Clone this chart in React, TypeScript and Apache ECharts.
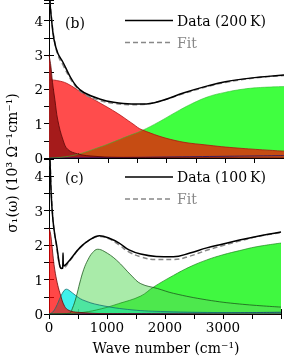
import React, { useEffect, useRef } from "react";
import * as echarts from "echarts";

// ---- Panel (b): 200 K ----
const dataB: number[][] = [
  [8, 5.4], [15, 4.6], [45, 4.0], [85, 3.45], [150, 3.05], [240, 2.78], [350, 2.4],
  [470, 2.08], [600, 1.9], [860, 1.72], [1100, 1.62], [1400, 1.57], [1600, 1.57],
  [1900, 1.66], [2300, 1.9], [2700, 2.1], [3000, 2.22], [3500, 2.34], [4000, 2.42],
];
const fitB: number[][] = [
  [8, 5.5], [15, 4.7], [45, 4.05], [85, 3.5], [150, 3.0], [240, 2.7], [350, 2.35],
  [470, 2.05], [600, 1.86], [860, 1.68], [1100, 1.59], [1400, 1.55], [1600, 1.56],
  [1900, 1.66], [2300, 1.88], [2700, 2.08], [3000, 2.2], [3500, 2.33], [4000, 2.4],
];
const drudeNarrowB: number[][] = [
  [0, 3.0], [30, 2.7], [60, 2.2], [100, 1.7], [150, 1.1], [240, 0.52], [320, 0.25],
  [490, 0.12], [700, 0.06], [1200, 0.02], [4000, 0.0],
];
const drudeBroadB: number[][] = [
  [0, 2.28], [150, 2.25], [306, 2.17], [579, 1.88], [868, 1.6], [1157, 1.31],
  [1430, 0.99], [1583, 0.82], [2145, 0.51], [2723, 0.37], [3285, 0.28], [4000, 0.2],
];
const lorentzHighB: number[][] = [
  [0, 0], [200, 0.02], [476, 0.1], [800, 0.28], [1040, 0.43], [1300, 0.61],
  [1583, 0.8], [1870, 1.05], [2145, 1.32], [2430, 1.58], [2720, 1.79], [2995, 1.91],
  [3285, 2.0], [3570, 2.05], [4000, 2.08],
];
const lorentzTinyB: number[][] = [
  [0, 0], [1000, 0.01], [2000, 0.03], [3000, 0.05], [4000, 0.07],
];

// ---- Panel (c): 100 K ----
const dataC: number[][] = [
  [8, 5.6], [17, 4.5], [40, 3.4], [68, 2.73], [100, 2.3], [136, 1.95], [165, 1.6],
  [190, 1.37], [215, 1.32], [235, 1.33], [242, 1.77], [250, 1.4], [280, 1.42],
  [360, 1.57], [530, 1.92], [700, 2.15], [870, 2.27], [1040, 2.2], [1210, 2.06],
  [1380, 1.86], [1580, 1.74], [1850, 1.67], [2145, 1.66], [2430, 1.77], [2720, 1.92],
  [3000, 2.03], [3285, 2.15], [3600, 2.26], [4000, 2.38],
];
const fitC: number[][] = [
  [8, 5.6], [20, 4.5], [68, 2.75], [136, 1.9], [190, 1.38], [240, 1.33], [360, 1.55],
  [530, 1.92], [700, 2.15], [870, 2.25], [1040, 2.18], [1210, 2.0], [1380, 1.8],
  [1580, 1.66], [1850, 1.58], [2145, 1.58], [2430, 1.68], [2720, 1.85], [3000, 1.99],
  [3285, 2.12], [3600, 2.25], [4000, 2.36],
];
const drudeC: number[][] = [
  [0, 2.5], [25, 2.35], [50, 2.0], [75, 1.6], [100, 1.28], [140, 0.92], [190, 0.6],
  [270, 0.22], [350, 0.1], [500, 0.05], [1000, 0.01], [4000, 0],
];
const phononLowC: number[][] = [
  [0, 0], [60, 0.05], [120, 0.2], [200, 0.5], [260, 0.68], [300, 0.72], [360, 0.67],
  [450, 0.55], [580, 0.41], [870, 0.26], [1430, 0.12], [2000, 0.07], [3000, 0.04],
  [4000, 0.03],
];
const lorentzMidC: number[][] = [
  [0, 0], [350, 0.02], [400, 0.15], [470, 0.5], [530, 0.9], [600, 1.3], [670, 1.57],
  [750, 1.78], [840, 1.88], [950, 1.82], [1160, 1.57], [1430, 1.1], [1583, 0.88],
  [1870, 0.74], [2145, 0.6], [2720, 0.41], [3285, 0.29], [4000, 0.2],
];
const lorentzHighC: number[][] = [
  [0, 0], [300, 0.01], [600, 0.05], [900, 0.15], [1200, 0.3], [1580, 0.52],
  [1800, 0.78], [2145, 1.12], [2430, 1.37], [2720, 1.57], [3000, 1.72], [3285, 1.84],
  [3570, 1.95], [4000, 2.06],
];
const lorentzTinyC: number[][] = [
  [0, 0], [2000, 0.02], [4000, 0.05],
];

const xTickStep = 500;
const xLabelValues = [0, 1000, 2000, 3000];
const yTickStep = 0.5;
const yLabelValues = [0, 1, 2, 3, 4];

const FONT = "DejaVu Serif";

function area(name: string, data: number[][], xi: number, yi: number, fill: string, opacity: number, line: string, lw = 0.8) {
  return {
    type: "line", name, data, xAxisIndex: xi, yAxisIndex: yi, smooth: 0.4,
    symbol: "none", silent: true,
    lineStyle: { color: line, width: lw },
    areaStyle: { color: fill, opacity },
  };
}
function curve(name: string, data: number[][], xi: number, yi: number, color: string, dashed: boolean, width: number) {
  return {
    type: "line", name, data, xAxisIndex: xi, yAxisIndex: yi, smooth: 0.4,
    symbol: "none", silent: true,
    lineStyle: { color, width, type: dashed ? [5, 3] : "solid" },
  };
}

export default function App() {
  const ref = useRef<HTMLDivElement>(null);
  useEffect(() => {
    if (!ref.current) return;
    const chart = echarts.init(ref.current, null, { renderer: "svg" });
    const axisLine = { show: true, lineStyle: { color: "#000", width: 1 } };
    const tick = { show: true, inside: true, length: 5, lineStyle: { color: "#000", width: 1 } };
    const xAx = (gi: number, pos: string, labels: boolean) => ({
      type: "value", gridIndex: gi, position: pos, min: 0, max: 4000, interval: xTickStep,
      axisLine, axisTick: tick, splitLine: { show: false },
      axisLabel: {
        show: labels, margin: 6, fontFamily: FONT, fontSize: 13.5, color: "#000",
        formatter: (v: number) => (xLabelValues.includes(v) ? String(v) : ""),
      },
    });
    const yAx = (gi: number, pos: string, max: number, labels: boolean) => ({
      type: "value", gridIndex: gi, position: pos, min: 0, max, interval: yTickStep,
      axisLine, axisTick: tick, splitLine: { show: false },
      axisLabel: {
        show: labels, margin: 6, fontFamily: FONT, fontSize: 13.5, color: "#000",
        formatter: (v: number) => (yLabelValues.includes(v) ? String(v) : ""),
      },
    });
    const legendItems = (y0: number, label: string) => [
      { type: "line", shape: { x1: 125, y1: y0, x2: 173, y2: y0 }, style: { stroke: "#000", lineWidth: 1.5 } },
      { type: "text", x: 177, y: y0, style: { text: label, fontFamily: FONT, fontSize: 14, fill: "#000", textVerticalAlign: "middle" } },
      { type: "line", shape: { x1: 125, y1: y0 + 22, x2: 173, y2: y0 + 22 }, style: { stroke: "#888", lineWidth: 1.5, lineDash: [5, 3] } },
      { type: "text", x: 177, y: y0 + 22, style: { text: "Fit", fontFamily: FONT, fontSize: 14, fill: "#888", textVerticalAlign: "middle" } },
    ];
    chart.setOption({
      animation: false,
      grid: [
        { left: 49, top: -1, width: 236, height: 159 },
        { left: 49, top: 159, width: 236, height: 155 },
      ],
      xAxis: [xAx(0, "bottom", false), xAx(0, "top", false), xAx(1, "bottom", true), xAx(1, "top", false)],
      yAxis: [yAx(0, "left", 4.6, true), yAx(0, "right", 4.6, false), yAx(1, "left", 4.5, true), yAx(1, "right", 4.5, false)],
      series: [
        area("Tiny (200 K)", lorentzTinyB, 0, 0, "#2a1a9a", 1, "#1a1070"),
        area("Lorentz high (200 K)", lorentzHighB, 0, 0, "#40ff40", 1, "#30c030", 0.6),
        area("Drude broad (200 K)", drudeBroadB, 0, 0, "#ff0000", 0.7, "#b01010"),
        area("Drude narrow (200 K)", drudeNarrowB, 0, 0, "#a51b1b", 1, "#5a0808"),
        curve("Fit (200 K)", fitB, 0, 0, "#888", true, 1.5),
        curve("Data (200 K)", dataB, 0, 0, "#000", false, 1.5),
        area("Tiny (100 K)", lorentzTinyC, 2, 2, "#2a1a9a", 1, "#1a1070"),
        area("Lorentz high (100 K)", lorentzHighC, 2, 2, "#40f840", 1, "#208a20", 0.7),
        area("Phonon (100 K)", phononLowC, 2, 2, "#00ece4", 0.75, "#137070"),
        area("Lorentz mid (100 K)", lorentzMidC, 2, 2, "#5ad85a", 0.52, "#1e5a1e"),
        area("Drude (100 K)", drudeC, 2, 2, "#ff0000", 0.72, "#6a0a0a"),
        curve("Fit (100 K)", fitC, 2, 2, "#888", true, 1.5),
        curve("Data (100 K)", dataC, 2, 2, "#000", false, 1.5),
      ],
      graphic: [
        ...legendItems(20.5, "Data (200\u2009K)"),
        ...legendItems(177, "Data (100\u2009K)"),
        { type: "text", x: 65, y: 23, style: { text: "(b)", fontFamily: FONT, fontSize: 14, fill: "#000", textVerticalAlign: "middle" } },
        { type: "text", x: 65, y: 178, style: { text: "(c)", fontFamily: FONT, fontSize: 14, fill: "#000", textVerticalAlign: "middle" } },
        {
          type: "text", x: 12, y: 163, rotation: Math.PI / 2,
          style: { text: "σ₁(ω) (10³ Ω⁻¹cm⁻¹)", fontFamily: FONT, fontSize: 14, fill: "#000", textAlign: "center", textVerticalAlign: "middle" },
        },
        {
          type: "text", x: 166, y: 348,
          style: { text: "Wave number (cm⁻¹)", fontFamily: FONT, fontSize: 14, fill: "#000", textAlign: "center", textVerticalAlign: "middle" },
        },
      ],
    });
    return () => chart.dispose();
  }, []);
  return <div ref={ref} style={{ position: "fixed", left: 0, top: 0, width: 284, height: 358 }} />;
}
